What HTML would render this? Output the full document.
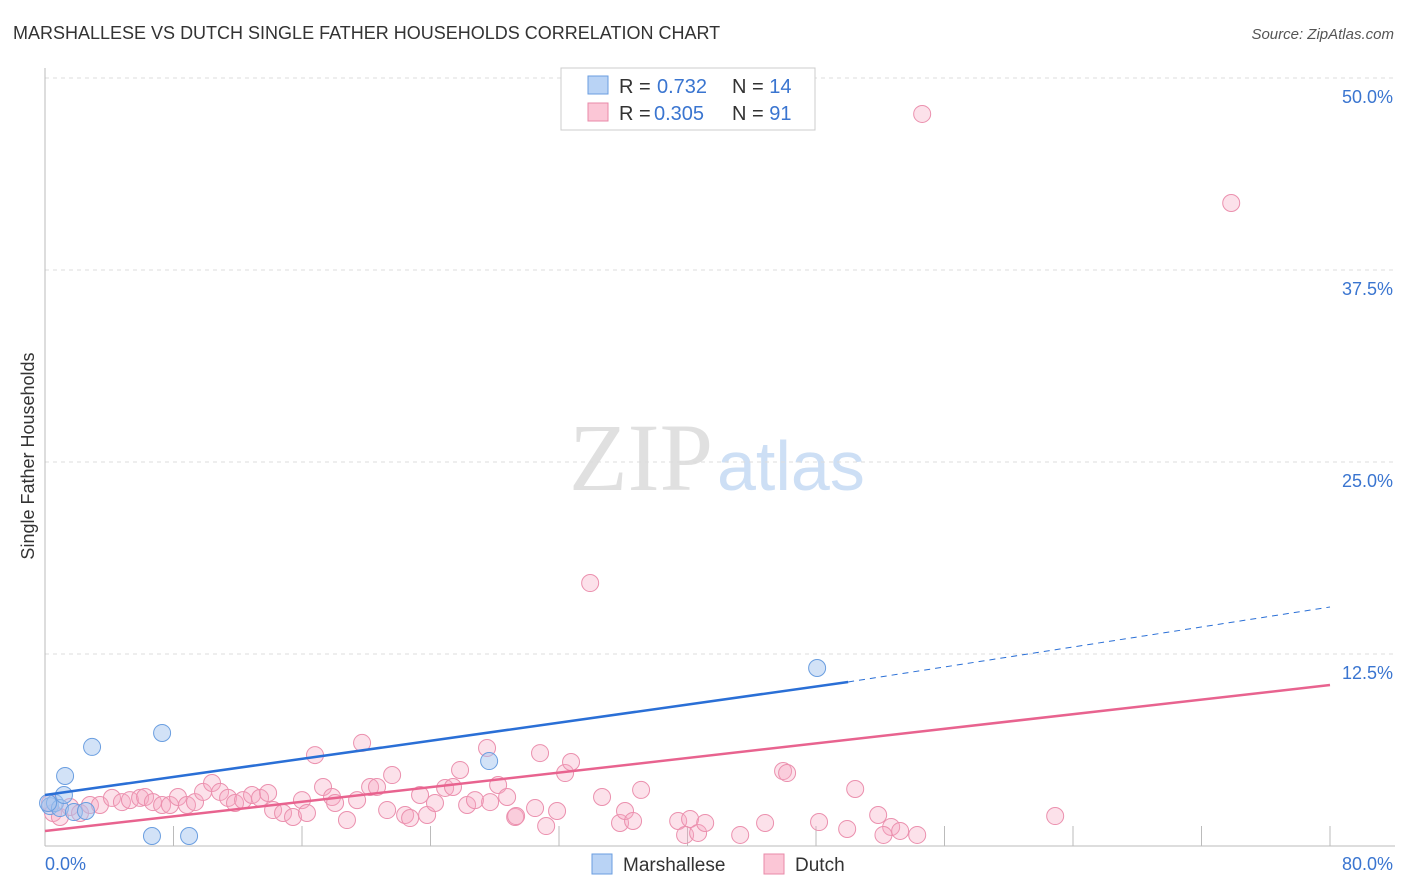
<!DOCTYPE html>
<html><head><meta charset="utf-8"><style>
body{margin:0;background:#fff;font-family:"Liberation Sans",sans-serif;}
svg{display:block}
</style></head><body>
<svg width="1406" height="892">
<text x="13" y="39" font-size="18" fill="#333">MARSHALLESE VS DUTCH SINGLE FATHER HOUSEHOLDS CORRELATION CHART</text>
<text x="1394" y="39" font-size="15" fill="#555" font-style="italic" text-anchor="end">Source: ZipAtlas.com</text>
<text x="713" y="490" font-size="96" fill="#e0e0e0" text-anchor="end" font-family="Liberation Serif,serif">ZIP</text>
<text x="717" y="490" font-size="70" fill="#cddff5">atlas</text>
<text transform="translate(34,456) rotate(-90)" font-size="18" fill="#333" text-anchor="middle">Single Father Households</text>
<g id="grid"></g><g id="axes"></g><g id="pts"></g><g id="lines"></g>
<g>
<rect x="561" y="68" width="254" height="62" fill="#fff" stroke="#ccc"/>
<rect x="588" y="76" width="20" height="18" fill="#b9d3f5" stroke="#6a9ee0"/>
<rect x="588" y="103" width="20" height="18" fill="#fbc6d6" stroke="#e88aa8"/>
<text x="619" y="93" font-size="20" fill="#333">R = <tspan x="657" fill="#3a75d0">0.732</tspan><tspan x="732">N = </tspan><tspan fill="#3a75d0">14</tspan></text>
<text x="619" y="120" font-size="20" fill="#333">R = <tspan x="654" fill="#3a75d0">0.305</tspan><tspan x="732">N = </tspan><tspan fill="#3a75d0">91</tspan></text>
</g>
<g>
<rect x="592" y="854" width="20" height="20" fill="#b9d3f5" stroke="#6a9ee0"/>
<text x="623" y="871" font-size="19" fill="#333">Marshallese</text>
<rect x="764" y="854" width="20" height="20" fill="#fbc6d6" stroke="#e88aa8"/>
<text x="795" y="871" font-size="19" fill="#333">Dutch</text>
</g>
</svg>
<script>
const yTicks=[12.5,25,37.5,50];
const yTickLabels=["12.5%","25.0%","37.5%","50.0%"];
const xTickLabels=["0.0%","80.0%"];
const blueX=[0.31,0.62,0.93,1.25,1.18,1.8,2.55,2.93,6.66,7.29,8.97,27.65,48.07,0.19];
const blueY=[2.6,2.8,2.47,4.56,3.32,2.21,2.28,6.45,0.65,7.36,0.65,5.53,11.59,2.8];
const pinkX=[0.31,0.5,0.93,1.56,2.18,2.8,3.42,4.17,4.79,5.29,5.92,6.23,6.72,7.29,7.78,8.28,8.84,9.34,9.84,10.4,10.9,11.4,11.83,12.33,12.89,13.39,13.89,14.2,14.82,15.44,16.0,16.31,16.81,17.31,17.87,18.06,18.8,19.43,19.74,20.24,20.67,21.61,21.3,22.42,22.73,23.35,23.79,24.28,24.91,25.4,25.84,26.28,26.77,27.52,27.71,28.21,28.77,29.27,29.33,30.51,30.82,31.2,31.88,32.38,32.75,34.68,35.8,36.11,36.61,37.11,39.42,40.16,39.85,40.66,41.1,43.28,44.83,45.95,46.2,48.19,49.94,50.44,51.87,52.68,52.2,53.24,54.3,54.61,73.85,33.94,62.89];
const pinkY=[2.8,2.15,1.89,2.54,2.15,2.67,2.67,3.13,2.86,2.99,3.13,3.19,2.86,2.67,2.67,3.19,2.67,2.86,3.52,4.1,3.52,3.13,2.8,2.99,3.32,3.13,3.45,2.34,2.15,1.89,2.99,2.15,5.92,3.84,3.19,2.8,1.69,2.99,6.71,3.84,3.84,4.62,2.34,2.02,1.82,3.32,2.02,2.8,3.78,3.84,4.95,2.67,2.99,6.38,2.86,3.97,3.19,1.89,1.95,2.47,6.05,1.3,2.28,4.75,5.47,3.19,1.5,2.28,1.63,3.65,1.63,1.76,0.72,0.85,1.5,0.72,1.5,4.88,4.75,1.56,1.11,3.71,2.02,1.24,0.72,0.98,0.72,47.66,41.86,17.12,1.95];
const blueFit=[3.32,10.68,15.56]; // at x=0,50,80
const pinkFit=[0.98,10.48]; // at x=0,80
const X0=45,X1=1330,Y0=846,Y50=78;
const sx=v=>X0+(X1-X0)*v/80, sy=v=>Y0-(Y0-Y50)*v/50;
const NS="http://www.w3.org/2000/svg";
function mk(t,a,p){const e=document.createElementNS(NS,t);for(const k in a)e.setAttribute(k,a[k]);p.appendChild(e);return e;}
const grid=document.getElementById('grid'),axes=document.getElementById('axes'),pts=document.getElementById('pts'),lines=document.getElementById('lines');
yTicks.forEach((t,i)=>{
 const l=mk('line',{x1:X0,x2:1395,y1:sy(t),y2:sy(t),stroke:'#ddd','stroke-dasharray':'4,4'},grid);
 
 
 const tx=mk('text',{x:1393,y:sy(t)+25,'font-size':18,fill:'#3a75d0','text-anchor':'end'},grid);
 tx.textContent=yTickLabels[i];
 
 
});
const ya=mk('line',{x1:X0,x2:X0,y1:68,y2:Y0,stroke:'#bbb'},axes);


const xa=mk('line',{x1:X0,x2:1395,y1:Y0,y2:Y0,stroke:'#bbb'},axes);


for(let v=8;v<=80;v+=8){
 const tk=mk('line',{x1:sx(v),x2:sx(v),y1:826,y2:Y0,stroke:'#bbb'},axes);
 
 
}
[[0,'start',X0],[80,'end',1393]].forEach(([v,a,x],i)=>{
 const t=mk('text',{x:x,y:870,'font-size':18,fill:'#3a75d0','text-anchor':a},axes);
 t.textContent=xTickLabels[i];
 
 
});
pinkX.forEach((x,i)=>{
 const c=mk('circle',{cx:sx(x),cy:sy(pinkY[i]),r:8.5,fill:'rgba(247,170,196,0.35)',stroke:'#eb90ae','stroke-width':1},pts);
 
 
});
blueX.forEach((x,i)=>{
 const c=mk('circle',{cx:sx(x),cy:sy(blueY[i]),r:8.5,fill:'rgba(165,198,240,0.5)',stroke:'#6a9ee0','stroke-width':1},pts);
 
 
});
const bl=mk('line',{x1:sx(0),y1:sy(blueFit[0]),x2:sx(50),y2:sy(blueFit[1]),stroke:'#2a6fd6','stroke-width':2.5},lines);


const bd=mk('line',{x1:sx(50),y1:sy(blueFit[1]),x2:sx(80),y2:sy(blueFit[2]),stroke:'#2a6fd6','stroke-width':1,'stroke-dasharray':'6,5'},lines);


const pl=mk('line',{x1:sx(0),y1:sy(pinkFit[0]),x2:sx(80),y2:sy(pinkFit[1]),stroke:'#e8638f','stroke-width':2.5},lines);


</script>
</body></html>
